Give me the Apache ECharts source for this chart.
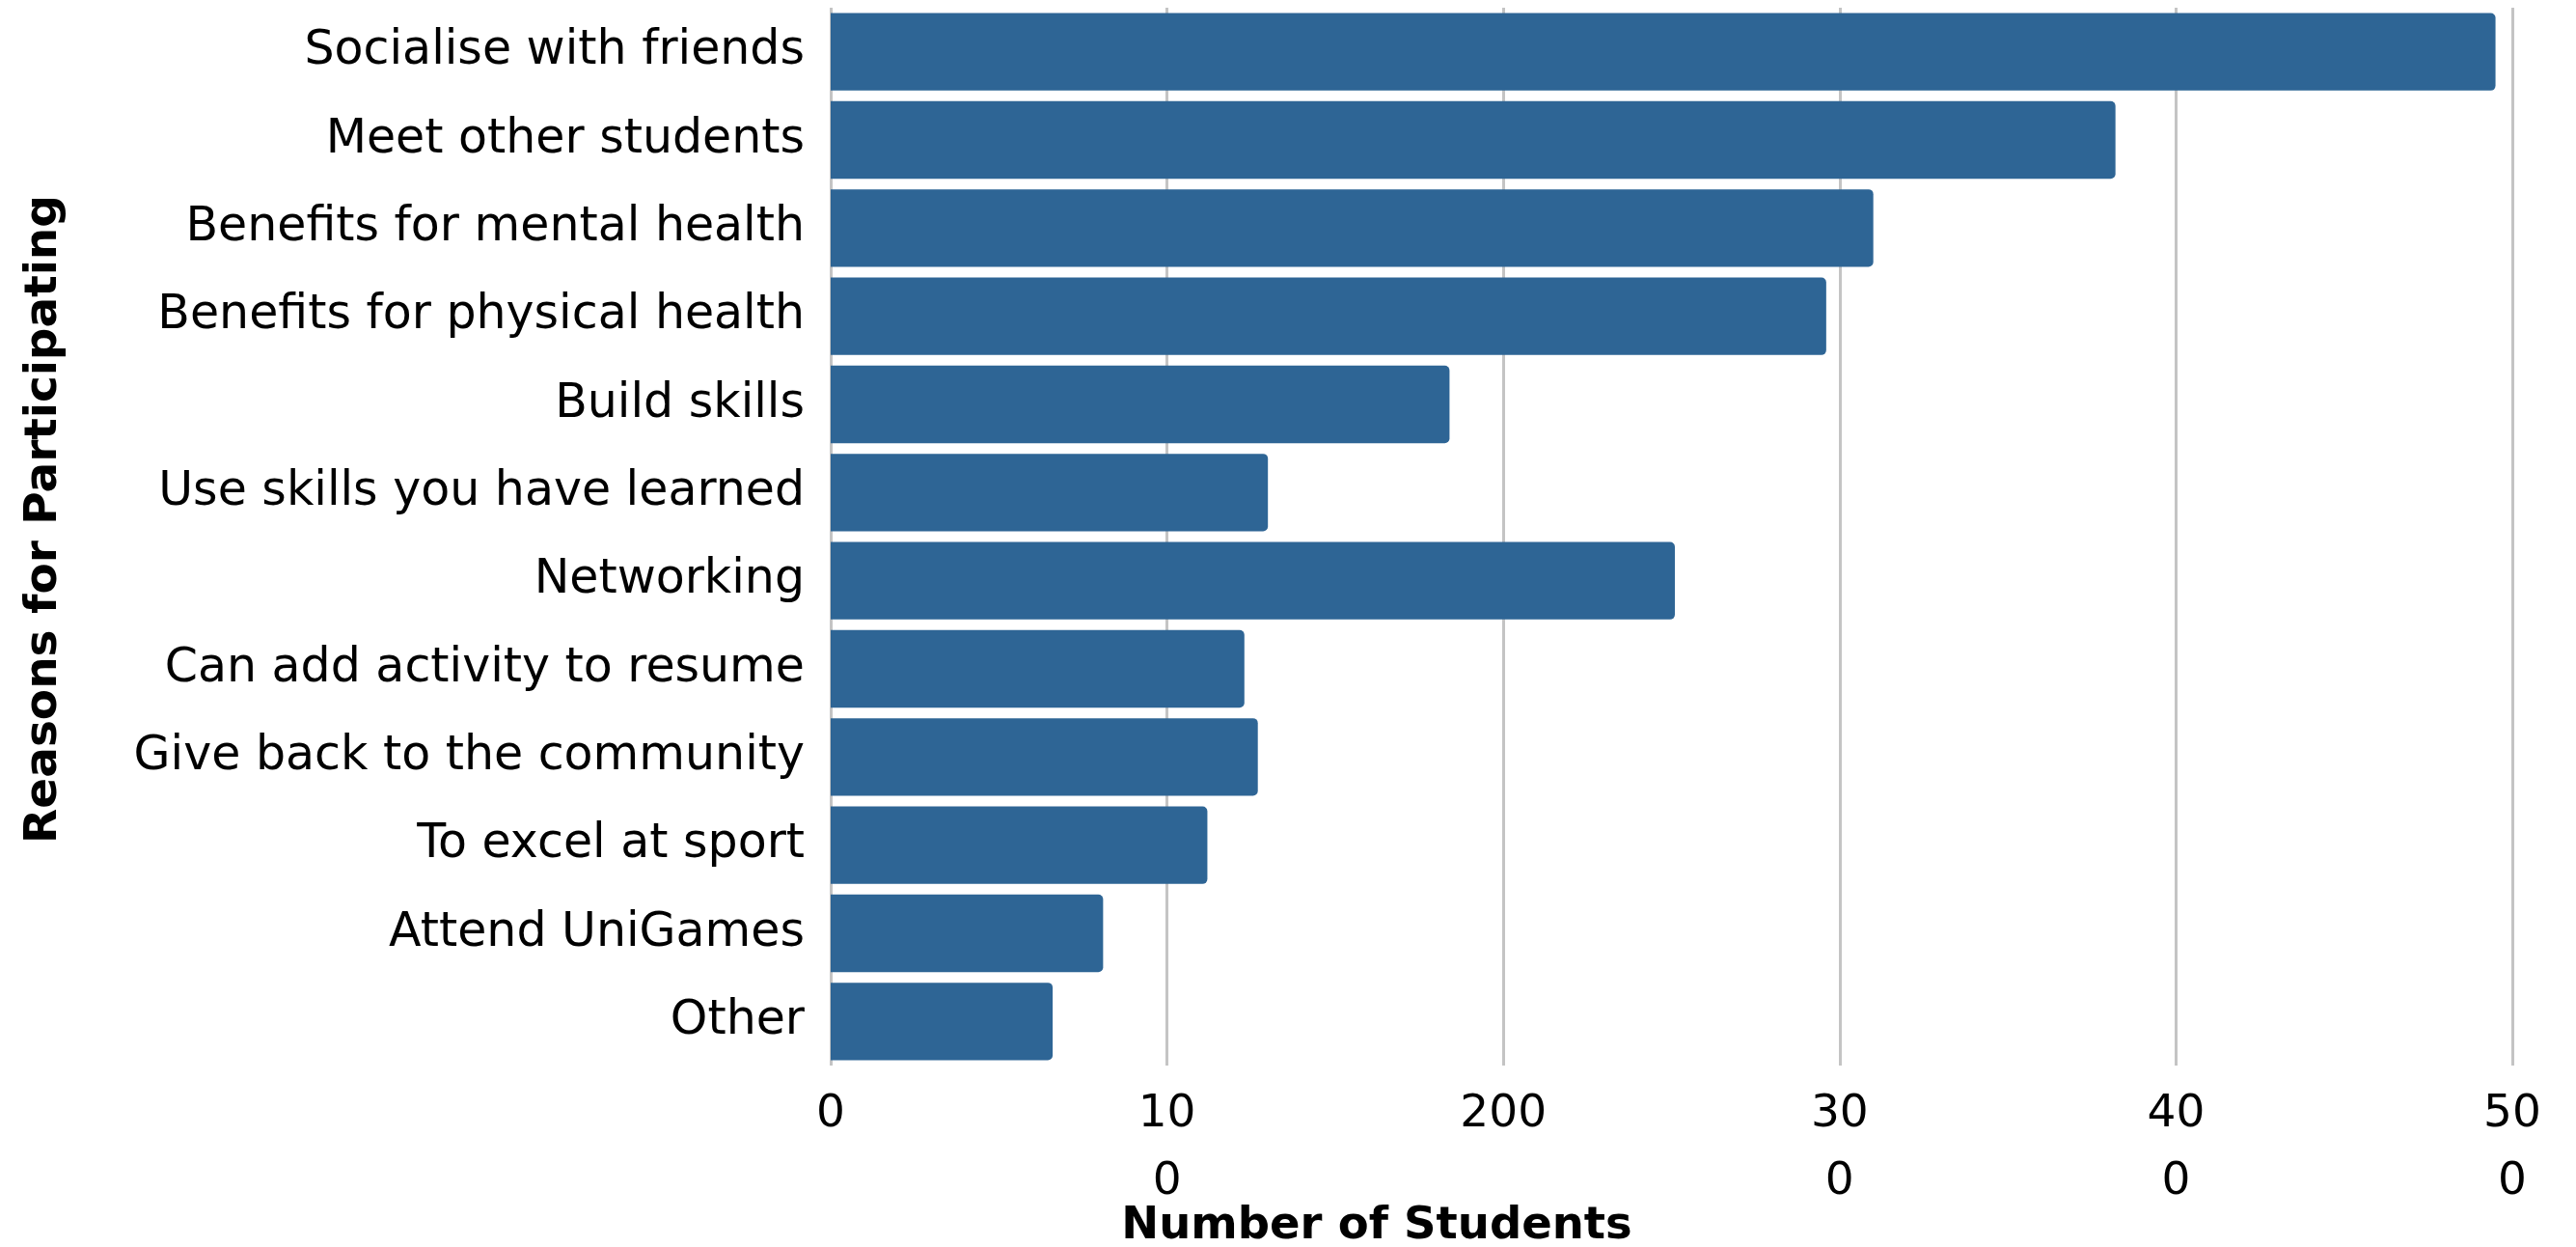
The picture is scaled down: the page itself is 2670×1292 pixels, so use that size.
<!DOCTYPE html>
<html>
<head>
<meta charset="utf-8">
<script src="https://cdn.jsdelivr.net/npm/echarts@6/dist/echarts.min.js"></script>
<style>
  html, body { margin: 0; padding: 0; background: #ffffff; }
  #chart { width: 2670px; height: 1292px; }
</style>
</head>
<body>
<div id="chart"></div>
<script>
const categories = [
  "Socialise with friends",
  "Meet other students",
  "Benefits for mental health",
  "Benefits for physical health",
  "Build skills",
  "Use skills you have learned",
  "Networking",
  "Can add activity to resume",
  "Give back to the community",
  "To excel at sport",
  "Attend UniGames",
  "Other"
];
const studentCounts = [495, 382, 310, 296, 184, 130, 251, 123, 127, 112, 81, 66];
const tickValues = [0, 100, 200, 300, 400, 500];
const tickLabels = ["0", "10\n0", "200", "30\n0", "40\n0", "50\n0"];
const xTitle = "Number of Students";
const yTitle = "Reasons for Participating";

const FONT = "'DejaVu Sans', sans-serif";
const chart = echarts.init(document.getElementById('chart'), null, { renderer: 'canvas' });

chart.setOption({
  animation: false,
  backgroundColor: '#ffffff',
  grid: { left: 861, right: 66, top: 8, bottom: 188, containLabel: false },
  xAxis: {
    type: 'value',
    min: 0,
    max: 500,
    interval: 100,
    axisLine: { show: false },
    axisTick: { show: false },
    splitLine: { show: true, lineStyle: { color: '#c4c4c4', width: 3 } },
    axisLabel: {
      margin: 16,
      fontFamily: FONT,
      fontSize: 47,
      lineHeight: 70,
      color: '#000000',
      formatter: function (v) {
        const i = tickValues.indexOf(v);
        return i >= 0 ? tickLabels[i] : '';
      }
    }
  },
  yAxis: {
    type: 'category',
    data: categories,
    inverse: true,
    axisLine: { show: false },
    axisTick: { show: false },
    splitLine: { show: false },
    axisLabel: {
      margin: 27,
      fontFamily: FONT,
      fontSize: 49,
      color: '#000000'
    }
  },
  series: [{
    type: 'bar',
    data: studentCounts,
    barCategoryGap: '12%',
    itemStyle: {
      color: '#2e6595',
      borderRadius: [0, 5, 5, 0]
    }
  }],
  graphic: [
    {
      type: 'text',
      x: 1427,
      y: 1271,
      style: {
        text: xTitle,
        fontFamily: FONT,
        fontWeight: 'bold',
        fontSize: 46.5,
        fill: '#000000',
        align: 'center',
        verticalAlign: 'middle'
      }
    },
    {
      type: 'text',
      x: 46,
      y: 538,
      rotation: Math.PI / 2,
      style: {
        text: yTitle,
        fontFamily: FONT,
        fontWeight: 'bold',
        fontSize: 47,
        fill: '#000000',
        align: 'center',
        verticalAlign: 'middle'
      }
    }
  ]
});
</script>
</body>
</html>
